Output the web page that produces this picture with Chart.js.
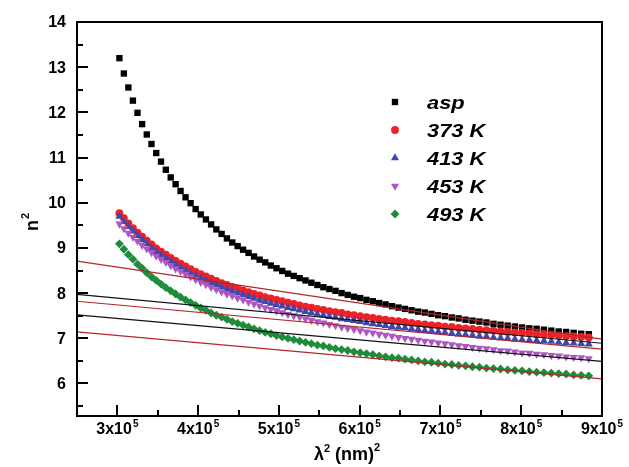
<!DOCTYPE html>
<html>
<head>
<meta charset="utf-8">
<script src="https://cdn.jsdelivr.net/npm/chart.js@4.4.0/dist/chart.umd.min.js"></script>
<style>
  html, body { margin: 0; padding: 0; background: #fff; overflow: hidden; }
  #stage { position: relative; width: 629px; height: 467px; }
  #stage canvas { display: block; position: absolute; left: 0; top: 0; }
  .mark { position: absolute; background: #000; }
  .box { position: absolute; border: 2px solid #000; box-sizing: border-box; }
</style>
</head>
<body>
<div id="stage"><canvas id="chart" width="629" height="467"></canvas></div>
<script>
// lambda^2 in nm^2 (550 ... 940 nm, 5 nm steps)
const lambdaSq = [302500, 308025, 313600, 319225, 324900, 330625, 336400, 342225, 348100, 354025,
  360000, 366025, 372100, 378225, 384400, 390625, 396900, 403225, 409600, 416025,
  422500, 429025, 435600, 442225, 448900, 455625, 462400, 469225, 476100, 483025,
  490000, 497025, 504100, 511225, 518400, 525625, 532900, 540225, 547600, 555025,
  562500, 570025, 577600, 585225, 592900, 600625, 608400, 616225, 624100, 632025,
  640000, 648025, 656100, 664225, 672400, 680625, 688900, 697225, 705600, 714025,
  722500, 731025, 739600, 748225, 756900, 765625, 774400, 783225, 792100, 801025,
  810000, 819025, 828100, 837225, 846400, 855625, 864900, 874225, 883600];

const aspN2 = [13.20, 12.86, 12.55, 12.26, 11.99, 11.74, 11.51, 11.30, 11.10, 10.91,
  10.73, 10.56, 10.41, 10.26, 10.12, 9.99, 9.86, 9.74, 9.63, 9.52,
  9.41, 9.31, 9.21, 9.12, 9.04, 8.96, 8.89, 8.81, 8.74, 8.68,
  8.61, 8.55, 8.49, 8.43, 8.38, 8.33, 8.28, 8.23, 8.18, 8.13,
  8.09, 8.05, 8.00, 7.96, 7.92, 7.89, 7.85, 7.82, 7.78, 7.75,
  7.71, 7.68, 7.65, 7.62, 7.59, 7.57, 7.54, 7.51, 7.49, 7.46,
  7.44, 7.41, 7.39, 7.37, 7.35, 7.32, 7.30, 7.28, 7.26, 7.24,
  7.22, 7.21, 7.19, 7.17, 7.15, 7.14, 7.12, 7.10, 7.09];

const k373N2 = [9.77, 9.66, 9.54, 9.44, 9.34, 9.25, 9.16, 9.08, 8.99, 8.92,
  8.85, 8.78, 8.71, 8.65, 8.59, 8.53, 8.47, 8.42, 8.37, 8.32,
  8.27, 8.22, 8.18, 8.14, 8.10, 8.06, 8.02, 7.98, 7.95, 7.91,
  7.88, 7.85, 7.82, 7.79, 7.76, 7.73, 7.70, 7.68, 7.65, 7.63,
  7.60, 7.58, 7.56, 7.53, 7.51, 7.49, 7.47, 7.45, 7.43, 7.41,
  7.39, 7.38, 7.36, 7.34, 7.32, 7.31, 7.29, 7.28, 7.26, 7.25,
  7.23, 7.22, 7.21, 7.19, 7.18, 7.17, 7.15, 7.14, 7.13, 7.12,
  7.11, 7.09, 7.08, 7.07, 7.06, 7.05, 7.04, 7.03, 7.02];

const k413N2 = [9.70, 9.58, 9.47, 9.37, 9.27, 9.18, 9.09, 9.00, 8.92, 8.84,
  8.77, 8.70, 8.63, 8.56, 8.50, 8.44, 8.38, 8.33, 8.28, 8.23,
  8.18, 8.13, 8.08, 8.04, 8.00, 7.96, 7.92, 7.88, 7.84, 7.81,
  7.77, 7.74, 7.71, 7.68, 7.65, 7.62, 7.59, 7.56, 7.53, 7.51,
  7.48, 7.46, 7.43, 7.41, 7.39, 7.37, 7.34, 7.32, 7.30, 7.28,
  7.26, 7.24, 7.23, 7.21, 7.19, 7.17, 7.16, 7.14, 7.13, 7.11,
  7.09, 7.08, 7.07, 7.05, 7.04, 7.02, 7.01, 7.00, 6.98, 6.97,
  6.96, 6.95, 6.94, 6.93, 6.91, 6.90, 6.89, 6.88, 6.87];

const k453N2 = [9.53, 9.43, 9.33, 9.24, 9.15, 9.06, 8.98, 8.90, 8.82, 8.75,
  8.68, 8.61, 8.54, 8.48, 8.42, 8.36, 8.30, 8.24, 8.19, 8.13,
  8.08, 8.03, 7.98, 7.94, 7.89, 7.85, 7.80, 7.76, 7.72, 7.68,
  7.64, 7.61, 7.57, 7.53, 7.50, 7.47, 7.43, 7.40, 7.37, 7.34,
  7.31, 7.28, 7.25, 7.22, 7.20, 7.17, 7.14, 7.12, 7.09, 7.07,
  7.05, 7.02, 7.00, 6.98, 6.96, 6.94, 6.92, 6.90, 6.88, 6.86,
  6.84, 6.82, 6.80, 6.78, 6.77, 6.75, 6.73, 6.72, 6.70, 6.68,
  6.67, 6.65, 6.64, 6.62, 6.61, 6.59, 6.58, 6.57, 6.55];

const k493N2 = [9.09, 8.97, 8.85, 8.75, 8.64, 8.55, 8.45, 8.36, 8.28, 8.20,
  8.12, 8.05, 7.98, 7.91, 7.85, 7.79, 7.73, 7.67, 7.62, 7.56,
  7.51, 7.47, 7.42, 7.37, 7.33, 7.29, 7.25, 7.21, 7.17, 7.13,
  7.10, 7.06, 7.03, 7.00, 6.97, 6.94, 6.91, 6.88, 6.85, 6.83,
  6.80, 6.77, 6.75, 6.73, 6.70, 6.68, 6.66, 6.64, 6.61, 6.59,
  6.57, 6.56, 6.54, 6.52, 6.50, 6.48, 6.47, 6.45, 6.43, 6.42,
  6.40, 6.39, 6.37, 6.36, 6.34, 6.33, 6.32, 6.30, 6.29, 6.28,
  6.26, 6.25, 6.24, 6.23, 6.22, 6.21, 6.19, 6.18, 6.17];

// straight-line fits, end points across the frame
const fitX = [250000, 900000];
const fitAsp = [8.71, 6.98];
const fit373 = [7.97, 6.89];
const fit413 = [7.82, 6.76];
const fit453 = [7.52, 6.49];
const fit493 = [7.14, 6.10];

const seriesLabels = ['asp', '373 K', '413 K', '453 K', '493 K'];
const yTickValues = [6, 7, 8, 9, 10, 11, 12, 13, 14];
const yMinorTicks = [5.5, 6.5, 7.5, 8.5, 9.5, 10.5, 11.5, 12.5, 13.5];
const xTickValues = [300000, 400000, 500000, 600000, 700000, 800000, 900000];
const xMinorTicks = [350000, 450000, 550000, 650000, 750000, 850000];
const xTickLabels = ['3x10', '4x10', '5x10', '6x10', '7x10', '8x10', '9x10'];

const FONT = '"Liberation Sans", Arial, Helvetica, sans-serif';
const RED_LINE = '#b3262b';
const INK = '#000000';

function pts(xs, ys) {
  return xs.map(function(x, i) { return { x: x, y: ys[i] }; });
}

function markerSet(label, ys, color, style, radius, rotation, order) {
  return {
    label: label,
    data: pts(lambdaSq, ys),
    showLine: false,
    pointStyle: style,
    pointRadius: radius,
    pointRotation: rotation,
    pointBackgroundColor: color,
    pointBorderColor: color,
    pointBorderWidth: 0,
    order: order
  };
}

function fitSet(ys, color) {
  return {
    label: 'fit',
    data: pts(fitX, ys),
    showLine: true,
    borderColor: color,
    borderWidth: 1.2,
    pointRadius: 0,
    fill: false,
    order: 0
  };
}

const markerSets = [
  markerSet(seriesLabels[0], aspN2, '#000000', 'rect', 4.5, 0, 10),
  markerSet(seriesLabels[1], k373N2, '#ec2227', 'circle', 3.9, 0, 9),
  markerSet(seriesLabels[2], k413N2, '#3d47b0', 'triangle', 4.7, 0, 8),
  markerSet(seriesLabels[3], k453N2, '#ad58c2', 'triangle', 4.7, 180, 7),
  markerSet(seriesLabels[4], k493N2, '#1f8b3b', 'rectRot', 4.4, 0, 6)
];

// tick labels, titles and legend
const decor = {
  id: 'decor',
  afterDraw(chart) {
    const ctx = chart.ctx;
    const xs = chart.scales.x;
    const ys = chart.scales.y;
    const L = Math.round(xs.getPixelForValue(250000));
    ctx.save();

    ctx.fillStyle = INK;
    ctx.font = 'bold 16px ' + FONT;
    ctx.textAlign = 'right';
    ctx.textBaseline = 'middle';
    yTickValues.forEach(function(v) {
      ctx.fillText(String(v), L - 11, ys.getPixelForValue(v) + 1);
    });

    ctx.textBaseline = 'alphabetic';
    ctx.textAlign = 'left';
    xTickValues.forEach(function(v, i) {
      const cx = xs.getPixelForValue(v);
      ctx.font = 'bold 16px ' + FONT;
      const w1 = ctx.measureText(xTickLabels[i]).width;
      ctx.font = 'bold 10px ' + FONT;
      const w2 = ctx.measureText('5').width;
      const x0 = cx - (w1 + w2 + 1) / 2;
      ctx.font = 'bold 16px ' + FONT;
      ctx.fillText(xTickLabels[i], x0, 434);
      ctx.font = 'bold 10px ' + FONT;
      ctx.fillText('5', x0 + w1 + 1, 427);
    });

    // x title: λ² (nm)²
    const parts = [['\u03bb', 18, 0], ['2', 11, -8], [' (nm)', 18, 0], ['2', 11, -9]];
    let tw = 0;
    parts.forEach(function(p) { ctx.font = 'bold ' + p[1] + 'px ' + FONT; tw += ctx.measureText(p[0]).width; });
    let tx = 347 - tw / 2;
    parts.forEach(function(p) {
      ctx.font = 'bold ' + p[1] + 'px ' + FONT;
      ctx.fillText(p[0], tx, 460 + p[2]);
      tx += ctx.measureText(p[0]).width;
    });

    // y title: n²
    ctx.save();
    ctx.translate(38, 231);
    ctx.rotate(-Math.PI / 2);
    ctx.font = 'bold 18px ' + FONT;
    ctx.fillText('n', 0, 0);
    const nw = ctx.measureText('n').width;
    ctx.font = 'bold 11px ' + FONT;
    ctx.fillText('2', nw + 1, -9);
    ctx.restore();

    // legend
    const rowY = [102, 130, 158, 186, 214];
    markerSets.forEach(function(ds, i) {
      ctx.fillStyle = ds.pointBackgroundColor;
      Chart.helpers.drawPoint(ctx, {
        pointStyle: ds.pointStyle,
        radius: ds.pointRadius,
        rotation: ds.pointRotation,
        borderWidth: 0
      }, 395, rowY[i]);
      ctx.save();
      ctx.translate(427, rowY[i] + 7);
      ctx.scale(1.15, 1);
      ctx.fillStyle = INK;
      ctx.font = 'italic bold 19px ' + FONT;
      ctx.fillText(ds.label, 0, 0);
      ctx.restore();
    });
    ctx.restore();
  }
};

const chart = new Chart(document.getElementById('chart'), {
  type: 'scatter',
  data: {
    datasets: markerSets.concat([
      fitSet(fitAsp, RED_LINE),
      fitSet(fit373, '#111111'),
      fitSet(fit413, RED_LINE),
      fitSet(fit453, '#111111'),
      fitSet(fit493, RED_LINE)
    ])
  },
  options: {
    responsive: false,
    animation: false,
    events: [],
    layout: { padding: { left: 77, top: 22, right: 27, bottom: 51 } },
    plugins: { legend: { display: false }, tooltip: { enabled: false } },
    scales: {
      x: { type: 'linear', min: 250000, max: 900000, display: false },
      y: { type: 'linear', min: 5.28, max: 14, display: false }
    }
  },
  plugins: [decor]
});

// frame and inward ticks as an overlay, placed from the chart's scales
(function buildFrame() {
  const stage = document.getElementById('stage');
  const xs = chart.scales.x;
  const ys = chart.scales.y;
  const L = Math.round(xs.getPixelForValue(250000));
  const R = Math.round(xs.getPixelForValue(900000));
  const T = Math.round(ys.getPixelForValue(14));
  const B = Math.round(ys.getPixelForValue(5.28));

  function add(cls, left, top, width, height) {
    const d = document.createElement('div');
    d.className = cls;
    d.style.left = left + 'px';
    d.style.top = top + 'px';
    d.style.width = width + 'px';
    d.style.height = height + 'px';
    stage.appendChild(d);
  }

  add('box', L - 1, T - 1, R - L + 2, B - T + 2);
  yTickValues.concat(yMinorTicks).forEach(function(v) {
    if (v >= 14) return;
    const py = Math.round(ys.getPixelForValue(v));
    const len = Number.isInteger(v) ? 10 : 5;
    add('mark', L, py - 1, len + 1, 2);
  });
  xTickValues.concat(xMinorTicks).forEach(function(v) {
    if (v >= 900000) return;
    const px = Math.round(xs.getPixelForValue(v));
    const len = (v % 100000 === 0) ? 10 : 5;
    add('mark', px - 1, B - len - 1, 2, len + 1);
  });
})();
</script>
</body>
</html>
